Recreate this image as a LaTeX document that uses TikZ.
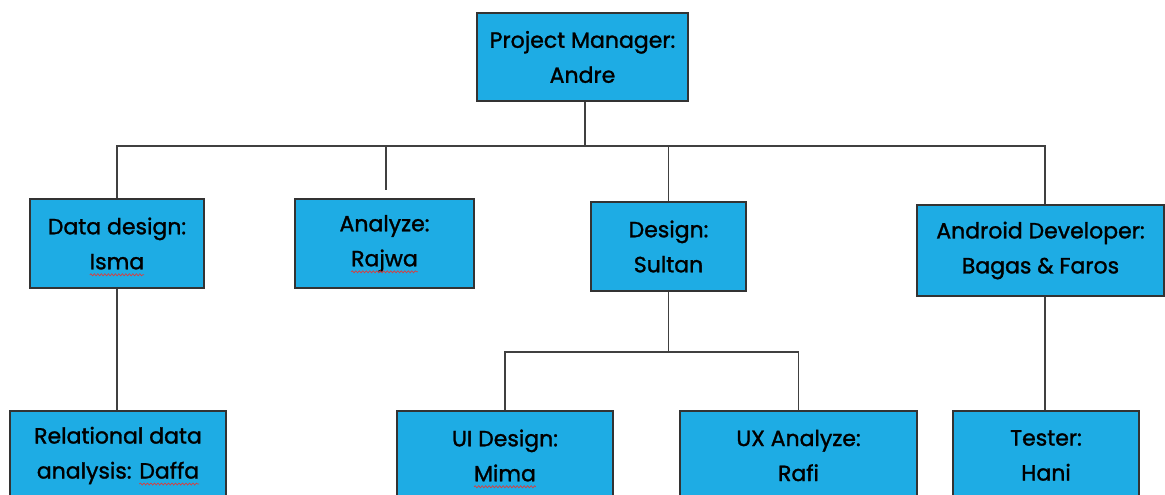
\documentclass[tikz,border=0pt]{standalone}
\usepackage{fontspec}
\setmainfont{Poppins}[BoldFont=Poppins,BoldFeatures={FakeBold=1.3}]
\usetikzlibrary{decorations.pathmorphing}
\definecolor{boxblue}{RGB}{30,172,228}
\definecolor{edgegray}{RGB}{64,64,64}
\definecolor{spellred}{RGB}{220,60,60}
% wavy red underline under a word
\newlength\spellw
\newcommand\spellmark[1]{\settowidth\spellw{#1}\rlap{#1}\makebox[\spellw][l]{\tikz[overlay]\draw[spellred,line width=0.7pt,decorate,decoration={snake,amplitude=1pt,segment length=3.5pt}] (0pt,-5.5pt) -- (\spellw,-5.5pt);}}
\begin{document}
\begin{tikzpicture}[x=1pt,y=-1pt,
  member/.style={draw=black!80,line width=1.4pt,fill=boxblue,align=center,inner sep=0pt,
    font=\fontsize{22}{35}\selectfont\bfseries,text=black,minimum height=89pt},
  link/.style={draw=edgegray,line width=1.4pt}]
\fill[white] (0,0) rectangle (1165,495);
\clip (0,0) rectangle (1165,495);

% boxes
\node[member,minimum width=211pt,minimum height=88pt] (pm) at (582.5,57) {Project Manager:\\Andre};
\node[member,minimum width=174pt] (dd) at (117,243.5) {Data design:\\\spellmark{Isma}};
\node[member,minimum width=179pt] (an) at (384.5,243.5) {Analyze:\\\spellmark{Rajwa}};
\node[member,minimum width=155pt] (de) at (668.5,246.5) {Design:\\Sultan};
\node[member,minimum width=247pt,minimum height=91pt] (ad) at (1040.5,250.5) {Android Developer:\\Bagas \& Faros};
\node[member,minimum width=216pt] (rd) at (118,455.5) {Relational data\\analysis: \spellmark{Daffa}};
\node[member,minimum width=216pt] (ui) at (505,455.5) {UI Design:\\\spellmark{Mima}};
\node[member,minimum width=237pt] (ux) at (798.5,455.5) {UX Analyze:\\Rafi};
\node[member,minimum width=186pt] (te) at (1046,455.5) {Tester:\\Hani};

% connectors
\coordinate (bus) at (0,146);
\coordinate (subbus) at (0,352);
\draw[link] ([xshift=2.5pt]pm.south) -- ([xshift=2.5pt]pm.south |- bus);
\draw[link] (dd.north) |- ([xshift=4.5pt]ad.north |- bus) -- ([xshift=4.5pt]ad.north);
\coordinate (anstub) at ([xshift=1.5pt]an.north);
\draw[link] (anstub |- bus) -- ([yshift=8pt]anstub);
\draw[link] (de.north |- bus) -- (de.north);
\draw[link] (de.south) -- (de.south |- subbus);
\draw[link] (ui.north) |- (ux.north |- subbus) -- (ux.north);
\draw[link] (dd.south) -- (dd.south |- rd.north);
\draw[link] ([xshift=4.5pt]ad.south) -- ([xshift=4.5pt]ad.south |- te.north);
\end{tikzpicture}
\end{document}
